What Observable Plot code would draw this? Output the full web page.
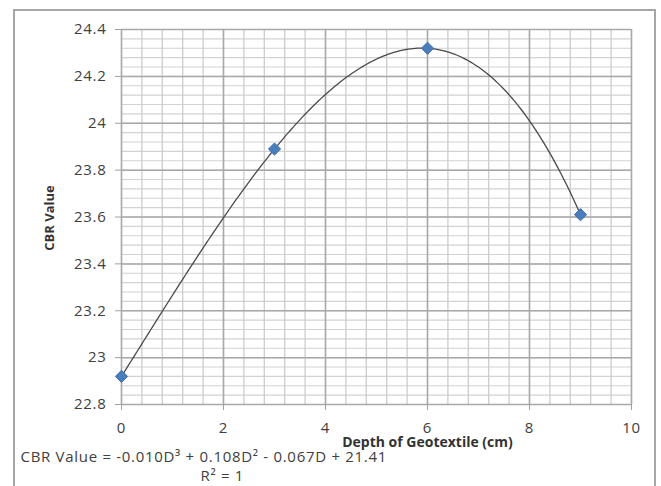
<!DOCTYPE html>
<html><head><meta charset="utf-8">
<script src="https://cdn.jsdelivr.net/npm/d3@7"></script>
<script src="https://cdn.jsdelivr.net/npm/@observablehq/plot@0.6"></script>
<style>
body{margin:0;background:#fff;}
#wrap{position:relative;width:661px;height:486px;overflow:hidden;background:#fff;}
#border{position:absolute;left:13px;top:9px;width:643px;height:500px;border:2px solid #a6a6a6;box-sizing:border-box;}
#wrap svg{position:absolute;left:0;top:0;}
#wrap svg text{letter-spacing:0.7px;}
#wrap svg g[font-weight="bold"] text{letter-spacing:0;}
</style></head><body><div id="wrap"><div id="border"></div></div>
<script>
const depth = [0, 3, 6, 9];
const cbr = [22.92, 23.89, 24.32, 23.61];
const xTicks = [0, 2, 4, 6, 8, 10];
const yTicks = [22.8, 23, 23.2, 23.4, 23.6, 23.8, 24, 24.2, 24.4];
const xLabel = "Depth of Geotextile (cm)";
const yLabel = "CBR Value";
const equation = "CBR Value = -0.010D³ + 0.108D² - 0.067D + 21.41";
const r2 = "R² = 1";

const data = depth.map((d, i) => ({depth: d, cbr: cbr[i]}));
const xMinor = d3.range(0, 26).map(i => i * 0.4);
const yMinor = d3.range(0, 41).map(i => 22.8 + i * 0.04);

// Polynomial (order n-1) trendline curve through the points, like a spreadsheet poly trendline
function polyTrend(context) {
  let pts = [];
  return {
    areaStart() {}, areaEnd() {},
    lineStart() { pts = []; },
    point(x, y) { pts.push([+x, +y]); },
    lineEnd() {
      const n = pts.length;
      if (!n) return;
      const f = x => {
        let s = 0;
        for (let i = 0; i < n; i++) {
          let p = pts[i][1];
          for (let j = 0; j < n; j++) if (j !== i) p *= (x - pts[j][0]) / (pts[i][0] - pts[j][0]);
          s += p;
        }
        return s;
      };
      const x0 = pts[0][0], x1 = pts[n - 1][0], steps = 200;
      context.moveTo(x0, pts[0][1]);
      for (let k = 1; k <= steps; k++) {
        const x = x0 + (x1 - x0) * k / steps;
        context.lineTo(x, f(x));
      }
    }
  };
}

const chart = Plot.plot({
  width: 661, height: 486,
  marginLeft: 121, marginRight: 30, marginTop: 29, marginBottom: 82,
  style: {fontFamily: "'Open Sans', sans-serif", fontSize: "15px", color: "#404040", background: "transparent"},
  x: {domain: [0, 10]},
  y: {domain: [22.8, 24.4]},
  marks: [
    Plot.gridY(yMinor, {stroke: "#d2d2d2", strokeOpacity: 1, strokeWidth: 1.2}),
    Plot.gridX(xMinor, {stroke: "#cccccc", strokeOpacity: 1, strokeWidth: 1.3}),
    Plot.gridY(yTicks, {stroke: "#a8a8a8", strokeOpacity: 1, strokeWidth: 1.5}),
    Plot.gridX(xTicks, {stroke: "#a8a8a8", strokeOpacity: 1, strokeWidth: 1.5}),
    Plot.axisY(yTicks, {tickSize: 6, tickPadding: 9, stroke: "#a0a0a0", fill: "#404040", tickFormat: d => String(d), label: null}),
    Plot.axisX(xTicks, {tickSize: 6, tickPadding: 12, stroke: "#a0a0a0", fill: "#404040", label: null}),
    Plot.line(data, {x: "depth", y: "cbr", curve: polyTrend, stroke: "#4a4a4a", strokeWidth: 1.3}),
    Plot.dot(data, {x: "depth", y: "cbr", symbol: "diamond2", r: 5.5, fill: "#4a7ebb", stroke: "#3d6fae", strokeWidth: 1}),
    Plot.text([xLabel], {text: d => d, frameAnchor: "bottom", dx: 51, dy: 42, fontWeight: "bold", fontSize: 14, fill: "#333"}),
    Plot.text([yLabel], {text: d => d, frameAnchor: "left", textAnchor: "middle", rotate: -90, dx: -72, dy: 1, fontWeight: "bold", fontSize: 13, fill: "#333"}),
    Plot.text([equation], {text: d => d, frameAnchor: "bottom-left", textAnchor: "start", dx: -101, dy: 57, fill: "#404040"}),
    Plot.text([r2], {text: d => d, frameAnchor: "bottom-left", dx: 79, dy: 76, fill: "#404040"})
  ]
});
document.getElementById("wrap").appendChild(chart);
</script>
</body></html>
